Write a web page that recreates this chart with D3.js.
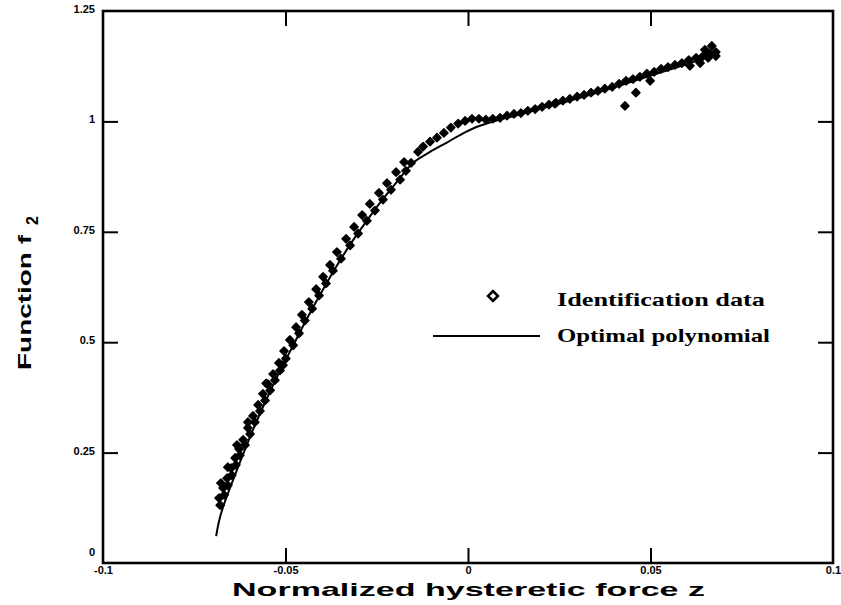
<!DOCTYPE html>
<html>
<head>
<meta charset="utf-8">
<script src="https://cdn.jsdelivr.net/npm/d3@7"></script>
<style>
  html, body { margin: 0; padding: 0; background: #fff; }
  svg { display: block; }
</style>
</head>
<body>
<svg id="chart" width="841" height="605"></svg>
<script>
// Axis ticks and their printed labels
const xTicks = [-0.1, -0.05, 0, 0.05, 0.1];
const xTickLabels = ["-0.1", "-0.05", "0", "0.05", "0.1"];
const yTicks = [0, 0.25, 0.5, 0.75, 1, 1.25];
const yTickLabels = ["0", "0.25", "0.5", "0.75", "1", "1.25"];

// Identification data: normalized hysteretic force z and function f2
const dataZ = [
  -0.0679, -0.0668, -0.0658, -0.0647, -0.0636, -0.0625, -0.0611, -0.0597, -0.0584, -0.0570,
  -0.0556, -0.0542, -0.0529, -0.0515, -0.0499, -0.0479, -0.0463, -0.0447, -0.0427, -0.0408,
  -0.0389, -0.0370, -0.0348, -0.0323, -0.0301, -0.0277, -0.0255, -0.0233, -0.0211, -0.0186,
  -0.0170, -0.0156, -0.0137, -0.0123, -0.0104, -0.0085, -0.0066, -0.0047, -0.0027, -0.0008,
   0.0011,  0.0030,  0.0049,  0.0068,  0.0088,  0.0107,  0.0126,  0.0145,  0.0164,  0.0184,
   0.0203,  0.0222,  0.0241,  0.0260,  0.0279,  0.0299,  0.0318,  0.0337,  0.0356,  0.0375,
   0.0395,  0.0414,  0.0433,  0.0452,  0.0471,  0.0490,  0.0510,  0.0529,  0.0548,  0.0567,
   0.0586,  0.0605,  0.0625,  0.0644,  0.0663,  0.0679,
  -0.0682, -0.0671, -0.0660, -0.0649, -0.0638, -0.0627, -0.0616, -0.0603, -0.0589, -0.0575,
  -0.0562, -0.0548, -0.0534, -0.0518, -0.0504, -0.0488, -0.0471, -0.0455, -0.0436, -0.0416,
  -0.0397, -0.0378, -0.0359, -0.0334, -0.0312, -0.0290, -0.0269, -0.0244, -0.0222, -0.0197,
  -0.0175,
   0.0649,  0.0668,  0.0679,  0.0658,
  -0.0677, -0.0658, -0.0633, -0.0603, -0.0553, -0.0507,
   0.0238,  0.0430,  0.0460,  0.0499,  0.0608,  0.0636
];
const dataF = [
  0.131, 0.154, 0.176, 0.199, 0.222, 0.244, 0.267, 0.292, 0.319, 0.344,
  0.368, 0.391, 0.414, 0.436, 0.463, 0.493, 0.520, 0.549, 0.576, 0.606,
  0.633, 0.662, 0.689, 0.719, 0.746, 0.775, 0.798, 0.823, 0.845, 0.868,
  0.888, 0.906, 0.931, 0.943, 0.954, 0.963, 0.974, 0.986, 0.995, 1.001,
  1.006, 1.006, 1.004, 1.006, 1.008, 1.013, 1.017, 1.019, 1.024, 1.028,
  1.033, 1.038, 1.042, 1.047, 1.051, 1.056, 1.060, 1.065, 1.069, 1.074,
  1.078, 1.085, 1.092, 1.096, 1.101, 1.108, 1.112, 1.119, 1.123, 1.128,
  1.132, 1.139, 1.144, 1.148, 1.153, 1.157,
  0.147, 0.170, 0.192, 0.215, 0.238, 0.258, 0.279, 0.306, 0.333, 0.358,
  0.383, 0.405, 0.428, 0.453, 0.480, 0.505, 0.534, 0.562, 0.591, 0.620,
  0.648, 0.675, 0.704, 0.734, 0.761, 0.788, 0.813, 0.838, 0.860, 0.885,
  0.908,
  1.162, 1.171, 1.148, 1.144,
  0.181, 0.217, 0.267, 0.319, 0.407, 0.448,
  1.040, 1.035, 1.065, 1.092, 1.126, 1.132
];

// Optimal polynomial fit, sampled along z
const polyZ = [
  -0.0690, -0.0682, -0.0671, -0.0652, -0.0625, -0.0592, -0.0556, -0.0521, -0.0482, -0.0444,
  -0.0405, -0.0364, -0.0323, -0.0279, -0.0236, -0.0192, -0.0151, -0.0104, -0.0058, -0.0016,
   0.0025,  0.0074,  0.0129,  0.0197,  0.0266,  0.0334,  0.0403,  0.0471,  0.0540,  0.0608,
   0.0682
];
const polyF = [
  0.061, 0.095, 0.127, 0.170, 0.228, 0.296, 0.364, 0.425, 0.488, 0.549,
  0.608, 0.667, 0.721, 0.773, 0.821, 0.866, 0.906, 0.931, 0.952, 0.972,
  0.988, 1.001, 1.013, 1.028, 1.044, 1.060, 1.078, 1.096, 1.114, 1.132,
  1.153
];

const svg = d3.select("#chart");
const x = d3.scaleLinear().domain([-0.1, 0.1]).range([103, 833]);
const y = d3.scaleLinear().domain([0, 1.25]).range([563, 11]);

// Data markers: small diamonds, inked solid
const diamond = d3.symbol().type(d3.symbolSquare).size(34)();
svg.append("g")
  .selectAll("path")
  .data(dataZ.map((z, i) => [z, dataF[i]]))
  .join("path")
  .attr("d", diamond)
  .attr("transform", d => `translate(${x(d[0])},${y(d[1])}) rotate(45)`)
  .attr("fill", "#000")
  .attr("stroke", "#000")
  .attr("stroke-width", 1.4)
  .attr("stroke-linejoin", "round");

// Polynomial curve
const line = d3.line()
  .x(d => x(d[0]))
  .y(d => y(d[1]))
  .curve(d3.curveCatmullRom);
svg.append("path")
  .datum(polyZ.map((z, i) => [z, polyF[i]]))
  .attr("d", line)
  .attr("fill", "none")
  .attr("stroke", "#000")
  .attr("stroke-width", 2);

// Axes with inward ticks on all four sides
function styleAxis(g, hideEnds) {
  g.select(".domain").remove();
  g.selectAll(".tick line").attr("stroke", "#000").attr("stroke-width", 2)
    .attr("display", d => hideEnds.includes(d) ? "none" : null);
  g.selectAll(".tick text")
    .attr("fill", "#000")
    .style("font-family", "'Liberation Sans', Arial, sans-serif")
    .style("font-weight", "900")
    .style("font-size", "11px");
}

const yAxisL = svg.append("g")
  .attr("transform", `translate(${x(-0.1)},0)`)
  .call(d3.axisLeft(y).tickValues(yTicks)
    .tickFormat((d, i) => yTickLabels[i]).tickSize(-15).tickPadding(8));
styleAxis(yAxisL, [0, 1.25]);
yAxisL.selectAll(".tick text")
  .attr("transform", d => d === 0 ? "translate(0,-11)" : "translate(0,-2)");

const yAxisR = svg.append("g")
  .attr("transform", `translate(${x(0.1)},0)`)
  .call(d3.axisRight(y).tickValues(yTicks).tickFormat("").tickSize(-15));
styleAxis(yAxisR, [0, 1.25]);

const xAxisB = svg.append("g")
  .attr("transform", `translate(0,${y(0)})`)
  .call(d3.axisBottom(x).tickValues(xTicks)
    .tickFormat((d, i) => xTickLabels[i]).tickSize(-15).tickPadding(3));
styleAxis(xAxisB, [-0.1, 0.1]);

const xAxisT = svg.append("g")
  .attr("transform", `translate(0,${y(1.25)})`)
  .call(d3.axisTop(x).tickValues(xTicks).tickFormat("").tickSize(-15));
styleAxis(xAxisT, [-0.1, 0.1]);

// Plot frame
svg.append("rect")
  .attr("x", x(-0.1)).attr("y", y(1.25))
  .attr("width", x(0.1) - x(-0.1)).attr("height", y(0) - y(1.25))
  .attr("fill", "none").attr("stroke", "#000").attr("stroke-width", 2.6);

// Axis titles
svg.append("text")
  .attr("x", 232).attr("y", 596)
  .attr("textLength", 473).attr("lengthAdjust", "spacingAndGlyphs")
  .style("font-family", "'Liberation Sans', Arial, sans-serif")
  .style("font-weight", "bold").style("font-size", "19px")
  .text("Normalized hysteretic force z");

const yTitle = svg.append("text")
  .attr("transform", "translate(31,370) rotate(-90)")
  .style("font-family", "'Liberation Sans', Arial, sans-serif")
  .style("font-weight", "bold").style("font-size", "19px");
yTitle.append("tspan").attr("x", 0).attr("y", 0)
  .attr("textLength", 135).attr("lengthAdjust", "spacingAndGlyphs")
  .text("Function f");
yTitle.append("tspan").attr("dx", 10).attr("dy", 7)
  .style("font-size", "16px").text("2");

// Legend
const legend = svg.append("g");
legend.append("path")
  .attr("d", d3.symbol().type(d3.symbolSquare).size(48)())
  .attr("transform", "translate(493,296) rotate(45)")
  .attr("fill", "#fff").attr("stroke", "#000").attr("stroke-width", 2.6);
legend.append("text")
  .attr("x", 557).attr("y", 306)
  .attr("textLength", 208).attr("lengthAdjust", "spacingAndGlyphs")
  .style("font-family", "'Liberation Serif', 'Times New Roman', serif")
  .style("font-weight", "bold").style("font-size", "19px")
  .text("Identification data");
legend.append("line")
  .attr("x1", 433).attr("x2", 540).attr("y1", 336).attr("y2", 336)
  .attr("stroke", "#000").attr("stroke-width", 2);
legend.append("text")
  .attr("x", 557).attr("y", 342)
  .attr("textLength", 213).attr("lengthAdjust", "spacingAndGlyphs")
  .style("font-family", "'Liberation Serif', 'Times New Roman', serif")
  .style("font-weight", "bold").style("font-size", "19px")
  .text("Optimal polynomial");
</script>
</body>
</html>
